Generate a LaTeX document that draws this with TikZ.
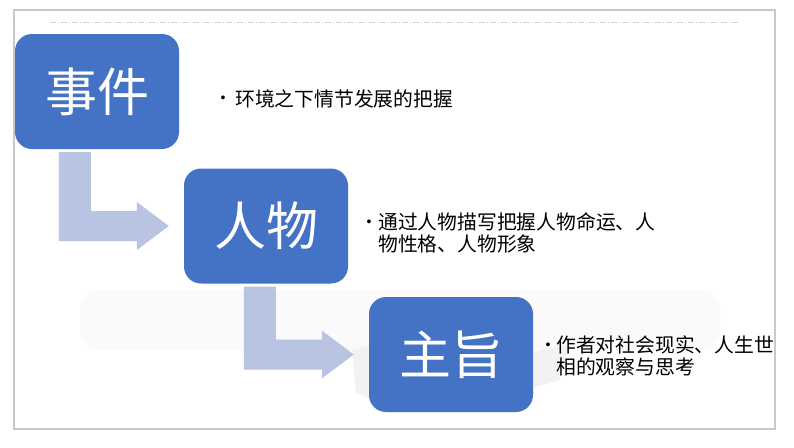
\documentclass[tikz,border=0pt]{standalone}
\usepackage{fontspec}
\setmainfont{Liberation Sans}
\newfontfamily\cjk{Noto Sans CJK SC}
\usetikzlibrary{calc}
\definecolor{boxblue}{HTML}{4472C4}
\definecolor{arrowblue}{HTML}{B9C4E2}
\definecolor{framegray}{HTML}{C8C8C8}
\definecolor{dashgray}{HTML}{D4D4D4}
\tikzset{
  stagebox/.style={fill=boxblue, rounded corners=17pt, minimum width=164pt, minimum height=115pt,
    inner sep=0pt, text=white, font=\cjk\fontsize{52}{56}\selectfont},
  desc/.style={anchor=west, inner sep=0pt, align=left, font=\cjk\fontsize{19.8}{22.5}\selectfont},
  bul/.style={inner sep=0pt, font=\fontsize{14}{14}\selectfont},
  arrowfill/.style={fill=arrowblue}
}
\newcommand\bentarr[3]{%
  \fill[arrowfill] let \p1=(#1.south west), \p2=(#2.west) in
   (\x1+#3pt,\y1-3pt) -- (\x1+#3pt+32pt,\y1-3pt) -- (\x1+#3pt+32pt,\y2+15pt)
   -- (\x2-47pt,\y2+15pt) -- (\x2-47pt,\y2+24pt) -- (\x2-15pt,\y2) -- (\x2-47pt,\y2-24pt)
   -- (\x2-47pt,\y2-15pt) -- (\x1+#3pt,\y2-15pt) -- cycle;}
\begin{document}
\begin{tikzpicture}[x=1pt,y=-1pt]
\useasboundingbox (0,0) rectangle (794,447);
\fill[white] (0,0) rectangle (794,447);
% faint background texture
\fill[black!2, rounded corners=20pt] (80,290) rectangle (720,350);
\fill[black!5] (352,350) -- (372,345) -- (372,400) -- (356,392) -- cycle;
\fill[black!5] (533,352) -- (568,345) -- (560,380) -- (533,388) -- cycle;
% frame
\draw[framegray, line width=1.5pt] (14,10) rectangle (775,429);
\draw[dashgray, line width=0.8pt, dash pattern=on 6pt off 2pt on 1pt off 2pt] (50,22) -- (740,22);
% boxes
\node[stagebox] (b1) at (97,91.5) {事件};
\node[stagebox] (b2) at (266,226) {人物};
\node[stagebox] (b3) at (451,354.5) {主旨};
% arrows
\bentarr{b1}{b2}{44}
\bentarr{b2}{b3}{60}
% descriptions
\node[bul] (p1) at (223,99) {•};
\node[desc] (t1) at (235,99) {环境之下情节发展的把握};
\node[bul] (p2) at (369,223) {•};
\node[desc] (t2) at (378,233) {通过人物描写把握人物命运、人\\物性格、人物形象};
\node[bul] (p3) at (548,346) {•};
\node[desc] (t3) at (556,356) {作者对社会现实、人生世\\相的观察与思考};
\end{tikzpicture}
\end{document}
